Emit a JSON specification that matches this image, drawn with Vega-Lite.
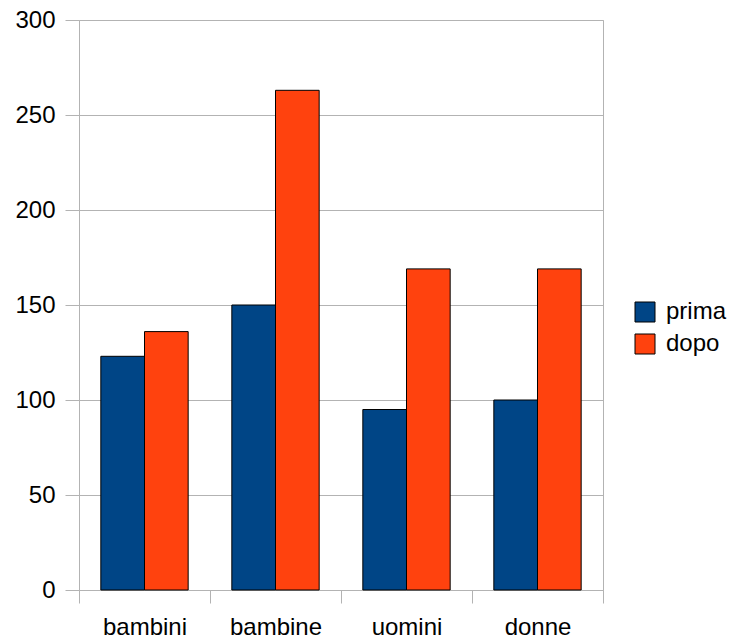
{
  "$schema": "https://vega.github.io/schema/vega-lite/v6.json",
  "autosize": {"type": "none"},
  "padding": {"left": 79, "top": 20, "right": 136, "bottom": 50},
  "width": 524,
  "height": 570,
  "background": "white",
  "config": {
    "view": {"stroke": "#b3b3b3", "strokeWidth": 1},
    "font": "Liberation Sans"
  },
  "data": {
    "values": [
      {"gruppo": "bambini", "periodo": "prima", "valore": 123},
      {"gruppo": "bambini", "periodo": "dopo", "valore": 136},
      {"gruppo": "bambine", "periodo": "prima", "valore": 150},
      {"gruppo": "bambine", "periodo": "dopo", "valore": 263},
      {"gruppo": "uomini", "periodo": "prima", "valore": 95},
      {"gruppo": "uomini", "periodo": "dopo", "valore": 169},
      {"gruppo": "donne", "periodo": "prima", "valore": 100},
      {"gruppo": "donne", "periodo": "dopo", "valore": 169}
    ]
  },
  "mark": {"type": "bar", "stroke": "black", "strokeWidth": 1},
  "encoding": {
    "x": {
      "field": "gruppo",
      "type": "nominal",
      "sort": ["bambini", "bambine", "uomini", "donne"],
      "scale": {"paddingInner": 0, "paddingOuter": 0},
      "axis": {
        "title": null,
        "labelAngle": 0,
        "labelFontSize": 24,
        "labelColor": "black",
        "labelPadding": 12,
        "tickBand": "extent",
        "tickSize": 13,
        "tickColor": "#b3b3b3",
        "domainColor": "#b3b3b3",
        "grid": false
      }
    },
    "xOffset": {
      "field": "periodo",
      "type": "nominal",
      "sort": ["prima", "dopo"],
      "scale": {"paddingInner": 0, "paddingOuter": 0.5}
    },
    "y": {
      "field": "valore",
      "type": "quantitative",
      "scale": {"domain": [0, 300], "nice": false},
      "axis": {
        "title": null,
        "values": [0, 50, 100, 150, 200, 250, 300],
        "labelFontSize": 24,
        "labelColor": "black",
        "labelPadding": 10,
        "tickSize": 14,
        "tickColor": "#b3b3b3",
        "gridColor": "#b3b3b3",
        "domain": false
      }
    },
    "color": {
      "field": "periodo",
      "type": "nominal",
      "sort": ["prima", "dopo"],
      "scale": {"domain": ["prima", "dopo"], "range": ["#004586", "#ff420e"]},
      "legend": {
        "title": null,
        "orient": "none",
        "legendX": 554,
        "legendY": 280,
        "padding": 0,
        "symbolType": "square",
        "symbolSize": 400,
        "symbolStrokeColor": "black",
        "symbolStrokeWidth": 1,
        "labelFontSize": 24,
        "labelColor": "black",
        "labelOffset": 9,
        "rowPadding": 8
      }
    }
  }
}
